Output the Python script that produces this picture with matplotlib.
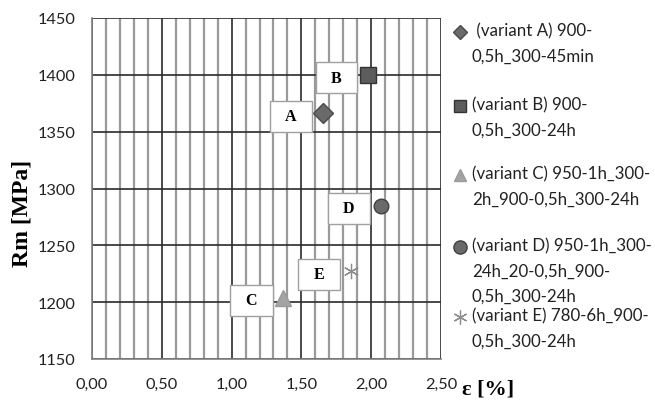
import matplotlib.pyplot as plt
from matplotlib.ticker import MultipleLocator, FuncFormatter

# data
strain = [1.655, 1.98, 1.37, 2.07, 1.855]
rm = [1366, 1400, 1204, 1285, 1227]
tags = ['A', 'B', 'C', 'D', 'E']
labels = [' (variant A) 900-\n0,5h_300-45min',
          '(variant B) 900-\n0,5h_300-24h',
          '(variant C) 950-1h_300-\n2h_900-0,5h_300-24h',
          '(variant D) 950-1h_300-\n24h_20-0,5h_900-\n0,5h_300-24h',
          '(variant E) 780-6h_900-\n0,5h_300-24h']
x_ticks = [0.0, 0.5, 1.0, 1.5, 2.0, 2.5]
y_ticks = [1150, 1200, 1250, 1300, 1350, 1400, 1450]

# styles
markers = ['D', 's', '^', 'o', (6, 2, 0)]
msizes = [10, 11, 11, 10.5, 11]
leg_sizes = [7, 9, 9, 9.5, 10]
faces = ['#6a6a6a', '#5c5c5c', '#a4a4a4', '#6a6a6a', 'none']
edges = ['#4a4a4a', '#333333', '#9a9a9a', '#404040', '#8c8c8c']
sans = 'Lato'
serif = 'Liberation Serif'

fig = plt.figure(figsize=(6.55, 4.10), dpi=100)
ax = fig.add_axes([92 / 655, 1 - 360 / 410, 349 / 655, 341 / 410])

ax.set_xlim(x_ticks[0], x_ticks[-1])
ax.set_ylim(y_ticks[0], y_ticks[-1])
ax.set_xticks(x_ticks)
ax.set_yticks(y_ticks)
ax.xaxis.set_minor_locator(MultipleLocator(0.1))
ax.xaxis.set_major_formatter(FuncFormatter(lambda v, p: f'{v:.2f}'.replace('.', ',')))
ax.tick_params(which='both', length=0)
ax.tick_params(axis='x', pad=13)
ax.tick_params(axis='y', pad=12)
for lab in ax.get_xticklabels() + ax.get_yticklabels():
    lab.set_fontfamily(sans)
    lab.set_fontsize(11.8)
    lab.set_color('#222222')

ax.grid(which='minor', axis='x', color='#9a9a9a', lw=1.6)
ax.grid(which='major', axis='both', color='#2a2a2a', lw=1.2)
ax.set_axisbelow(True)
for s in ['top', 'right']:
    ax.spines[s].set_visible(False)
for s in ['left', 'bottom']:
    ax.spines[s].set_color('#808080')
    ax.spines[s].set_linewidth(1.2)

for i in range(len(strain)):
    ax.plot(strain[i], rm[i], linestyle='none', marker=markers[i], ms=msizes[i],
            mfc=faces[i], mec=edges[i], mew=1.0 if i < 4 else 0.9, zorder=3)
    ax.annotate('\u2002' + tags[i] + '\u2002', (strain[i], rm[i]),
                xytext=(-23, -2), textcoords='offset points',
                ha='center', va='center', fontfamily=serif, fontweight='bold',
                fontsize=11.5,
                bbox=dict(boxstyle='square,pad=0.47', fc='white', ec='#a0a0a0', lw=1.0),
                zorder=4)

ax.set_ylabel('Rm [MPa]', fontfamily=serif, fontweight='bold', fontsize=17)
ax.yaxis.set_label_coords(-59 / 349, 0.43)
fig.text(488 / 655, 1 - 390 / 410, 'ε [%]', fontfamily=serif, fontweight='bold',
         fontsize=16, ha='center', va='center')

# legend drawn by hand so markers sit on the first line of each entry
leg_y = [33, 107, 176, 248, 318]
for i in range(len(labels)):
    yf = 1 - leg_y[i] / 410
    ax.plot([460 / 655], [yf], transform=fig.transFigure, clip_on=False,
            linestyle='none', marker=markers[i], ms=leg_sizes[i],
            mfc=faces[i], mec=edges[i], mew=1.0 if i < 4 else 0.9)
    fig.text(472 / 655, 1 - (leg_y[i] - 10) / 410, labels[i], fontfamily=sans,
             fontsize=12.2, color='#222222', ha='left', va='top', linespacing=1.7)

fig.savefig('out.png', dpi=100)
